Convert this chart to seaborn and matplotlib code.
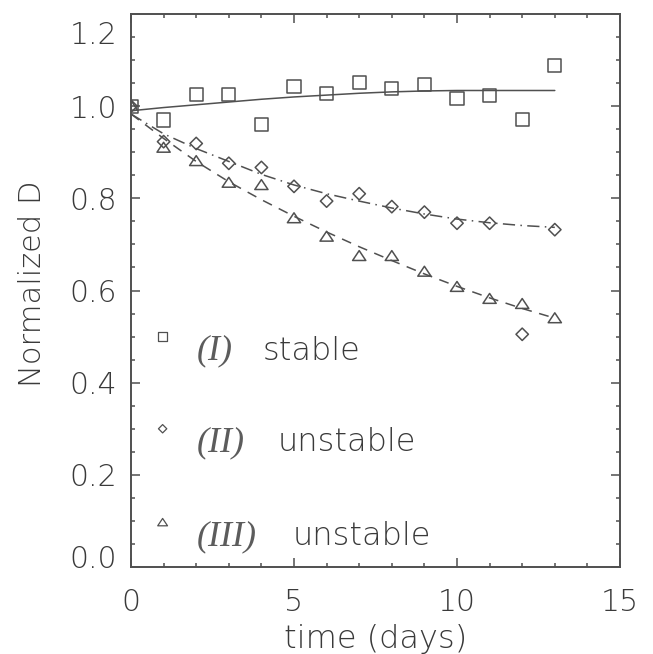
import matplotlib
matplotlib.use("Agg")
import matplotlib.pyplot as plt
import seaborn as sns
from matplotlib import font_manager
from matplotlib.path import Path
from matplotlib.ticker import MultipleLocator, FormatStrFormatter
from matplotlib.transforms import ScaledTranslation

# ---- measurements: normalized D against time ----
days = [0, 1, 2, 3, 4, 5, 6, 7, 8, 9, 10, 11, 12, 13]

stable_i = [1.000, 0.970, 1.025, 1.026, 0.961, 1.043, 1.028,
            1.052, 1.039, 1.047, 1.016, 1.024, 0.972, 1.088]
unstable_ii = [1.000, 0.923, 0.919, 0.876, 0.867, 0.826, 0.794,
               0.810, 0.782, 0.770, 0.746, 0.746, 0.505, 0.732]
unstable_iii = [1.000, 0.909, 0.880, 0.833, 0.828, 0.756, 0.716,
                0.674, 0.674, 0.640, 0.607, 0.581, 0.570, 0.539]

# fitted trend curves, sampled at each day
fit_i = [0.990, 0.997, 1.003, 1.009, 1.015, 1.020, 1.024,
         1.028, 1.031, 1.033, 1.034, 1.034, 1.034, 1.034]
fit_ii = [0.983, 0.940, 0.908, 0.880, 0.852, 0.829, 0.810,
          0.794, 0.779, 0.766, 0.755, 0.747, 0.741, 0.737]
fit_iii = [0.983, 0.930, 0.880, 0.836, 0.797, 0.761, 0.727,
           0.695, 0.665, 0.636, 0.609, 0.584, 0.561, 0.540]

roman_labels = ["(I)", "(II)", "(III)"]
state_labels = ["stable", "unstable", "unstable"]
x_ticks = [0, 5, 10, 15]
y_ticks = [0.0, 0.2, 0.4, 0.6, 0.8, 1.0, 1.2]

# ---- style ----
sns.set_theme(style="ticks")
INK = "#505050"
TEXT = "#3a3a3a"


def pick_light_family():
    wanted = ["DejaVu Sans", "Roboto", "Lato", "Open Sans", "Noto Sans", "Inter"]
    found = {}
    for f in font_manager.fontManager.ttflist:
        w = f.weight
        if isinstance(w, str):
            w = font_manager.weight_dict.get(w, 400)
        if f.name in wanted and f.style == "normal" and w <= 300:
            found[f.name] = w
    for name in wanted:
        if name in found:
            return name, found[name]
    return "DejaVu Sans", 400


family, weight = pick_light_family()
plt.rcParams.update({
    "font.family": [family, "DejaVu Sans"],
    "font.weight": weight,
    "axes.labelweight": weight,
    "text.color": TEXT,
    "axes.labelcolor": TEXT,
    "axes.edgecolor": INK,
    "xtick.color": INK,
    "ytick.color": INK,
    "xtick.labelcolor": TEXT,
    "ytick.labelcolor": TEXT,
    "axes.linewidth": 1.4,
})

fig = plt.figure(figsize=(6.53, 6.54), dpi=100)
ax = fig.add_axes([131 / 653, 1 - 567 / 654, 489 / 653, 553 / 654])

LW = 1.1
tri = Path([(-1.0, -0.62), (1.0, -0.62), (0.0, 0.88), (-1.0, -0.62)],
           [Path.MOVETO, Path.LINETO, Path.LINETO, Path.CLOSEPOLY])

# trend curves
sns.lineplot(x=days, y=fit_i, ax=ax, color=INK, lw=LW, linestyle="-")
sns.lineplot(x=days, y=fit_ii, ax=ax, color=INK, lw=LW,
             linestyle=(0, (8, 3.5, 1, 3.5)))
sns.lineplot(x=days, y=fit_iii, ax=ax, color=INK, lw=LW,
             linestyle=(0, (6.5, 5)))

# measured points (open symbols)
sns.scatterplot(x=days, y=stable_i, ax=ax, marker="s", s=88,
                facecolors="none", edgecolor=INK, linewidth=LW, zorder=3)
sns.scatterplot(x=days, y=unstable_ii, ax=ax, marker="D", s=40,
                facecolors="none", edgecolor=INK, linewidth=LW, zorder=3)
sns.scatterplot(x=days, y=unstable_iii, ax=ax, marker=tri, s=90,
                facecolors="none", edgecolor=INK, linewidth=LW, zorder=3)

# in-plot key
key_markers = ["s", "D", tri]
key_sizes = [36, 18, 50]
key_marker_y = [0.500, 0.300, 0.096]
key_text_y = [0.450, 0.252, 0.048]
key_word_x = [4.05, 4.51, 4.97]
for mk, sz, my, ty, wx, rom, word in zip(key_markers, key_sizes, key_marker_y,
                                          key_text_y, key_word_x,
                                          roman_labels, state_labels):
    ax.scatter([0.97], [my], marker=mk, s=sz, facecolors="none",
               edgecolors=INK, linewidths=0.9, zorder=3)
    ax.text(2.02, ty, rom, family="Liberation Serif", style="italic",
            weight="normal", fontsize=26, color="#5c5c5c", va="baseline",
            ha="left")
    ax.text(wx, ty, word, va="baseline", ha="left", fontsize=23, color=TEXT)

ax.set_xlim(0, 15)
ax.set_ylim(0, 1.2)
ax.set_xticks(x_ticks)
ax.set_yticks(y_ticks)
ax.xaxis.set_minor_locator(MultipleLocator(1))
ax.yaxis.set_minor_locator(MultipleLocator(0.05))
ax.yaxis.set_major_formatter(FormatStrFormatter("%.1f"))
ax.tick_params(which="both", direction="in", top=True, right=True,
               width=1.1, labelsize=21.5)
ax.tick_params(which="major", length=6.5)
ax.tick_params(which="minor", length=3.2)
ax.tick_params(axis="x", pad=15)
ax.tick_params(axis="y", pad=10)

ax.set_xlabel("time (days)", fontsize=23)
ax.set_ylabel("Normalized D", fontsize=22)
ax.xaxis.set_label_coords(0.5, -0.103)
ax.yaxis.set_label_coords(-0.172, 0.512)

for side in ax.spines.values():
    side.set_visible(True)
    side.set_color(INK)

# nudge the end labels of the y axis inward
fig.canvas.draw()
shifts = {"1.2": -19, "0.0": 10}
for lbl in ax.get_yticklabels():
    dy = shifts.get(lbl.get_text())
    if dy:
        lbl.set_transform(lbl.get_transform()
                          + ScaledTranslation(0, dy / 100, fig.dpi_scale_trans))

fig.savefig("out.png", dpi=100, facecolor="white")
